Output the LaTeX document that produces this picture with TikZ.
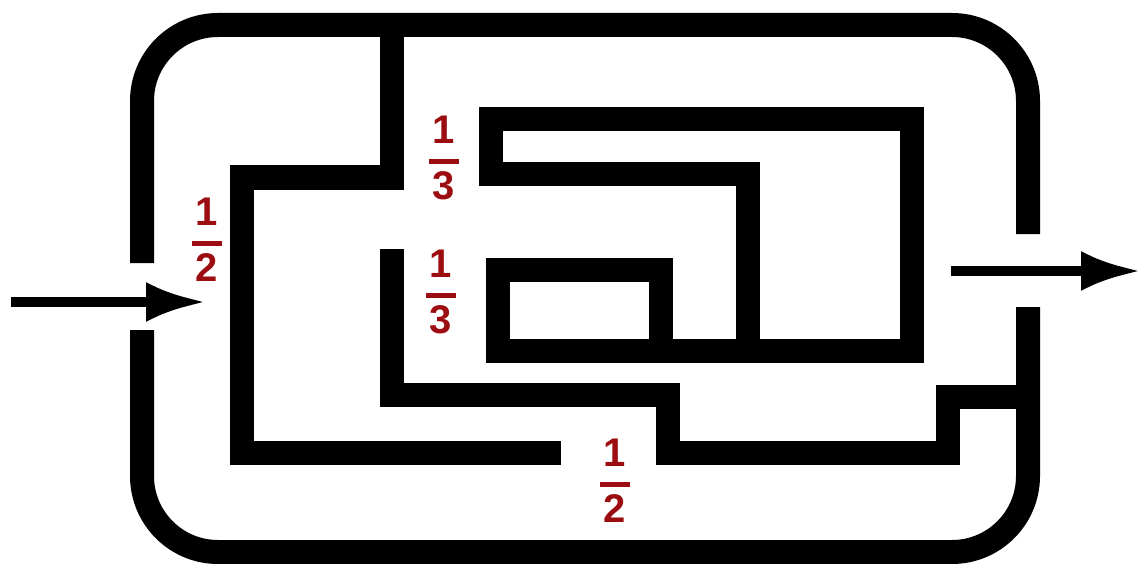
\documentclass[tikz,border=0pt]{standalone}
\usepackage{fontspec}
\newfontfamily\mzhand{Liberation Sans}
\usetikzlibrary{arrows.meta}
\definecolor{mzInk}{HTML}{000000}
\definecolor{mzRed}{HTML}{9B0D10}
\newcommand{\mzfrac}[2]{#1\\\rule[8pt]{30pt}{5pt}\\#2}
\tikzset{
  mz frame/.style={draw=mzInk, line width=24pt, rounded corners=76pt},
  mz wall/.style={draw=mzInk, line width=24pt, line join=miter},
  mz arrow/.style={draw=mzInk, line width=10pt, -{Latex[length=60pt,width=40pt]}},
  mz label/.style={text=mzRed, inner sep=0pt, align=center, font=\mzhand\bfseries\fontsize{40}{28}\selectfont},
}
\begin{document}
\begin{tikzpicture}[x=1pt,y=-1pt]
  \useasboundingbox (0,0) rectangle (1142,564);
  % outer frame, open left and right
  \draw[mz frame] (142,263) -- (142,25) -- (1028,25) -- (1028,234);
  \draw[mz frame] (1028,307) -- (1028,552) -- (142,552) -- (142,330);
  % inner walls
  \draw[mz wall] (392,25) -- (392,177.5) -- (242,177.5) -- (242,453) -- (561,453);
  \draw[mz wall] (392,249) -- (392,394.5) -- (668,394.5) -- (668,453) -- (948,453) -- (948,396.5) -- (1028,396.5);
  \draw[mz wall] (748,351) -- (748,174.5) -- (491,174.5) -- (491,119.5) -- (912,119.5) -- (912,351)
    -- (498,351) -- (498,270) -- (661,270) -- (661,351);
  % way in and way out
  \coordinate (inStart) at (11,302);
  \coordinate (inEnd) at (206,302);
  \coordinate (outStart) at (951,271);
  \coordinate (outEnd) at (1141,271);
  \draw[mz arrow] (inStart) -- (inEnd);
  \draw[mz arrow] (outStart) -- (outEnd);
  % branch shares
  \node[mz label] (halfIn) at (207,240) {\mzfrac{1}{2}};
  \node[mz label] (thirdTop) at (444,158) {\mzfrac{1}{3}};
  \node[mz label] (thirdMid) at (441,292) {\mzfrac{1}{3}};
  \node[mz label] (halfLow) at (615,481) {\mzfrac{1}{2}};
\end{tikzpicture}
\end{document}
